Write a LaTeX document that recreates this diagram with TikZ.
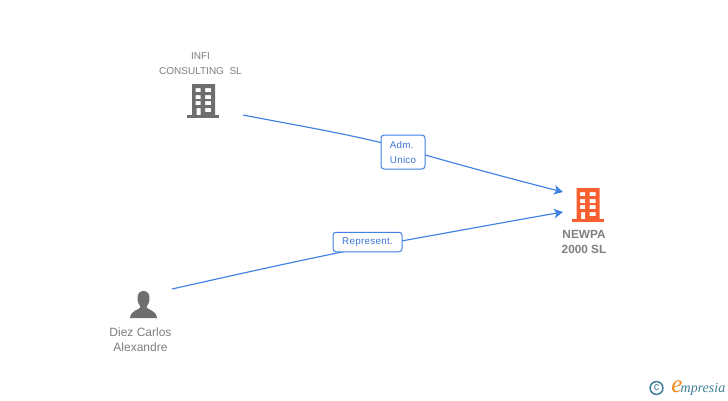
\documentclass[tikz,border=0pt]{standalone}
\usepackage{fontspec}
\setmainfont{Liberation Sans}
\newfontfamily\logofont{Liberation Serif}
\definecolor{linkblue}{HTML}{3F82E4}
\definecolor{labelblue}{HTML}{3A76D6}
\definecolor{iconGray}{HTML}{6E6E6E}
\definecolor{txtGray}{HTML}{7F7F7F}
\definecolor{newpaOrange}{HTML}{FA5F2F}
\definecolor{logoTeal}{HTML}{3F8099}
\definecolor{logoOrange}{HTML}{F08A1D}
\usetikzlibrary{arrows.meta,calc}
\pgfdeclarelayer{bottomlayer}
\pgfdeclarelayer{linklayer}
\pgfsetlayers{bottomlayer,linklayer,main}
\tikzset{
  linkplain/.style={draw=linkblue,line width=1.15pt},
  link/.style={linkplain,-{Stealth[length=9pt,width=9.5pt,inset=2.5pt]}},
  tag/.style={draw=linkblue,line width=1pt,rounded corners=3pt,fill=white,text=labelblue,font=\fontsize{9.8}{15}\selectfont\addfontfeature{LetterSpace=3},inner sep=0pt},
  caption/.style={text=txtGray,align=center,inner sep=0pt},
}
\newcommand{\building}[3]{%
  \begin{scope}[shift={(#1,#2)}]
    \fill[#3,even odd rule]
      (5,-34) rectangle (28,-3)
      (8.5,-30) rectangle (13.5,-26)
      (18,-30) rectangle (24,-26)
      (8.5,-23) rectangle (13.5,-19)
      (18,-23) rectangle (24,-19)
      (8.5,-17) rectangle (13.5,-13)
      (18,-17) rectangle (24,-13)
      (9.5,-10) rectangle (13.5,-3)
      (18,-10) rectangle (24,-6);
    \fill[#3] (0,-2.8) rectangle (32,0);
  \end{scope}}
\begin{document}
\begin{tikzpicture}[x=1pt,y=-1pt]
\begin{pgfonlayer}{bottomlayer}
\useasboundingbox[fill=white] (0,0) rectangle (728,400);
\end{pgfonlayer}

% icons
\building{187}{118}{iconGray}
\building{571.5}{222}{newpaOrange}
\fill[iconGray] (143.5,291) .. controls (147.5,291) and (149.5,294) .. (149.5,298)
  .. controls (149.5,302) and (148,305) .. (146.5,307)
  .. controls (146.5,309.5) and (156.5,310) .. (157,318)
  -- (130,318)
  .. controls (130.5,310) and (140.5,309.5) .. (140.5,307)
  .. controls (139,305) and (137.5,302) .. (137.5,298)
  .. controls (137.5,294) and (139.5,291) .. (143.5,291) -- cycle;

% captions
\node[caption,font=\fontsize{10}{15}\selectfont] (infi) at (200.5,63.5) {INFI\\CONSULTING\ \ SL};
\node[caption,font=\fontsize{11.8}{15.2}\selectfont\bfseries] (newpa) at (584,242) {NEWPA\\2000 SL};
\node[caption,font=\fontsize{12}{15.2}\selectfont] (diez) at (140.5,339.5) {Diez Carlos\\Alexandre};

% connector ends
\coordinate (infiEnd) at (243,115);
\coordinate (diezEnd) at (172,289);
\coordinate (newpaTop) at (563,192);
\coordinate (newpaLow) at (563,212);

% labels
\node[tag,align=left,minimum width=44pt,minimum height=34pt] (adm) at (403,152) {Adm.\\Unico};
\node[tag,minimum width=69pt,minimum height=19.5pt] (rep) at (367.5,242) {Represent.};

% connectors, behind the labels
\begin{pgfonlayer}{linklayer}
\draw[linkplain] (infiEnd) .. controls (300,126) and (360,136) .. ($(adm.center)+(0,-3.5)$);
\draw[link] ($(adm.center)+(0,-3.5)$) .. controls (450,162.4) and (510,178.5) .. (newpaTop);
\draw[linkplain] (diezEnd) .. controls (230,276) and (310,258) .. ($(rep.center)+(0,5)$);
\draw[link] ($(rep.center)+(0,5)$) .. controls (430,236) and (500,223) .. (newpaLow);
\end{pgfonlayer}

% logo
\draw[logoTeal,line width=1.5pt] (656.5,388) circle (6.4pt);
\node[text=logoTeal,inner sep=0pt,font=\fontsize{11}{11}\selectfont] (copy) at (656.5,387.5) {c};
\node[text=logoOrange,inner sep=0pt,font=\logofont\itshape\fontsize{25}{25}\selectfont] (logoe) at (677,387) {e};
\node[text=logoTeal,inner sep=0pt,anchor=west,font=\logofont\itshape\fontsize{14}{14}\selectfont] (logom) at (680.5,389) {mpresia};
\end{tikzpicture}
\end{document}
